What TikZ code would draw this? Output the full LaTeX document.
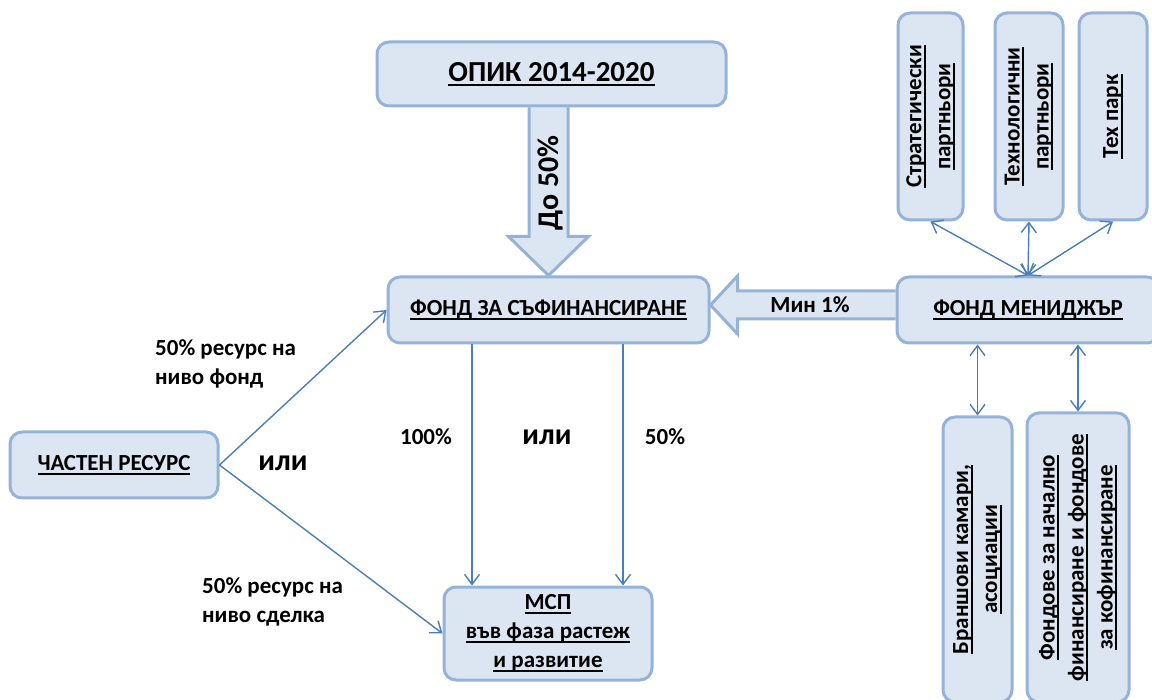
\documentclass[tikz,border=0pt]{standalone}
\usepackage{fontspec}
\setmainfont{Carlito}
\usetikzlibrary{positioning, arrows.meta, calc, backgrounds}

\definecolor{boxfill}{HTML}{DCE6F2}
\definecolor{boxline}{HTML}{95B3D7}
\definecolor{linkline}{HTML}{4A7EBB}

\newcommand{\ulx}[1]{\leavevmode\setbox0=\hbox{#1}\rlap{\vrule width\wd0 height -2.5pt depth 4.5pt}\box0}

\begin{document}
\begin{tikzpicture}[
    x=1pt, y=-1pt,
    box/.style={rectangle, rounded corners=12pt, draw=boxline, fill=boxfill, line width=3pt, align=center, inner sep=0pt, font=\bfseries\fontsize{23}{29}\selectfont},
    vbox/.style={box, rotate=90},
    lbl/.style={font=\bfseries\fontsize{23}{29}\selectfont, align=left, inner sep=0pt},
    big/.style={font=\bfseries\fontsize{30}{36}\selectfont, inner sep=0pt},
    fat/.style={draw=boxline, fill=boxfill, line width=3pt},
    link/.style={draw=linkline, line width=1.4pt, -{Straight Barb[length=10pt, width=15pt]}},
    both/.style={link, {Straight Barb[length=10pt, width=15pt]}-{Straight Barb[length=10pt, width=15pt]}}
]
\useasboundingbox (0,0) rectangle (1152,700);
\clip (0,0) rectangle (1152,700);

% ================= MAIN BOXES =================
\node[box, minimum width=349pt, minimum height=64pt, font=\bfseries\fontsize{29}{35}\selectfont] (opik) at (551.5,74) {\ulx{ОПИК 2014-2020}};
\node[box, minimum width=321pt, minimum height=66pt] (fond) at (548.5,310) {\ulx{ФОНД ЗА СЪФИНАНСИРАНЕ}};
\node[box, minimum width=208pt, minimum height=66pt] (priv) at (114,465) {\ulx{ЧАСТЕН РЕСУРС}};
\node[box, minimum width=208pt, minimum height=93pt] (msp) at (548,633.5) {\ulx{МСП}\\\ulx{във фаза растеж}\\\ulx{и развитие}};
\node[box, minimum width=262pt, minimum height=66pt] (fm) at (1028,310) {\ulx{ФОНД МЕНИДЖЪР}};

% ================= PARTNERS =================
\node[vbox, minimum width=207pt, minimum height=65pt] (strat) at (930.5,116.5) {\ulx{Стратегически}\\\ulx{партньори}};
\node[vbox, minimum width=207pt, minimum height=68pt] (tech) at (1029,116.5) {\ulx{Технологични}\\\ulx{партньори}};
\node[vbox, minimum width=207pt, minimum height=68pt] (park) at (1113,116.5) {\ulx{Тех парк}};
\node[vbox, minimum width=285pt, minimum height=69pt] (bran) at (977.5,559.5) {\ulx{Браншови камари,}\\\ulx{асоциации}};
\node[vbox, minimum width=289pt, minimum height=102pt] (seed) at (1078,557.5) {\ulx{Фондове за начално}\\\ulx{финансиране и фондове}\\\ulx{за кофинансиране}};

% ================= FAT ARROWS =================
\coordinate (sl) at ([xshift=-19.5pt]fond.north);
\coordinate (sr) at ([xshift=19.5pt]fond.north);
\coordinate (mt) at ([yshift=5pt]fond.east);
\coordinate (mu) at ([yshift=14pt]mt);
\coordinate (md) at ([yshift=-14pt]mt);
\begin{scope}[on background layer]
    \draw[fat] (sl |- opik.south) -- ([yshift=39pt]sl) -- ++(-20.5,0) -- (fond.north) -- ++(40,-39) -- ++(-20.5,0) -- (sr |- opik.south);
    \draw[fat] (mu -| fm.west) -- ([xshift=27pt]mu) -- ++(0,-15) -- (mt) -- ++(27,29) -- ++(0,-15) -- (md -| fm.west);
\end{scope}
\node[big, rotate=90] (upto) at (550,183) {До 50\%};
\node[lbl] (min) at (810,305) {Мин 1\%};

% ================= CONNECTORS =================
\draw[link] (priv.east) -- (fond.west);
\draw[link] (priv.east) -- (msp.west);
\draw[link] ([xshift=-76.5pt]fond.south) -- ([xshift=-76pt]msp.north);
\draw[link] ([xshift=74.5pt]fond.south) -- ([xshift=75pt]msp.north);

\draw[both] (strat.west) -- (fm.north);
\draw[both] (tech.west) -- (fm.north);
\draw[both] (park.west) -- (fm.north);
\draw[both] (bran.east |- fm.south) -- (bran.east);
\draw[both] (seed.east |- fm.south) -- (seed.east);

% ================= LABELS =================
\node[lbl, anchor=west] (fundlvl) at (155,364) {50\% ресурс на\\ниво фонд};
\node[lbl, anchor=west] (deallvl) at (202,602) {50\% ресурс на\\ниво сделка};
\node[big] (or1) at (283,463) {или};
\node[big] (or2) at (547,437) {или};
\node[lbl] (full) at (426,437) {100\%};
\node[lbl] (half) at (665,437) {50\%};

\end{tikzpicture}
\end{document}
